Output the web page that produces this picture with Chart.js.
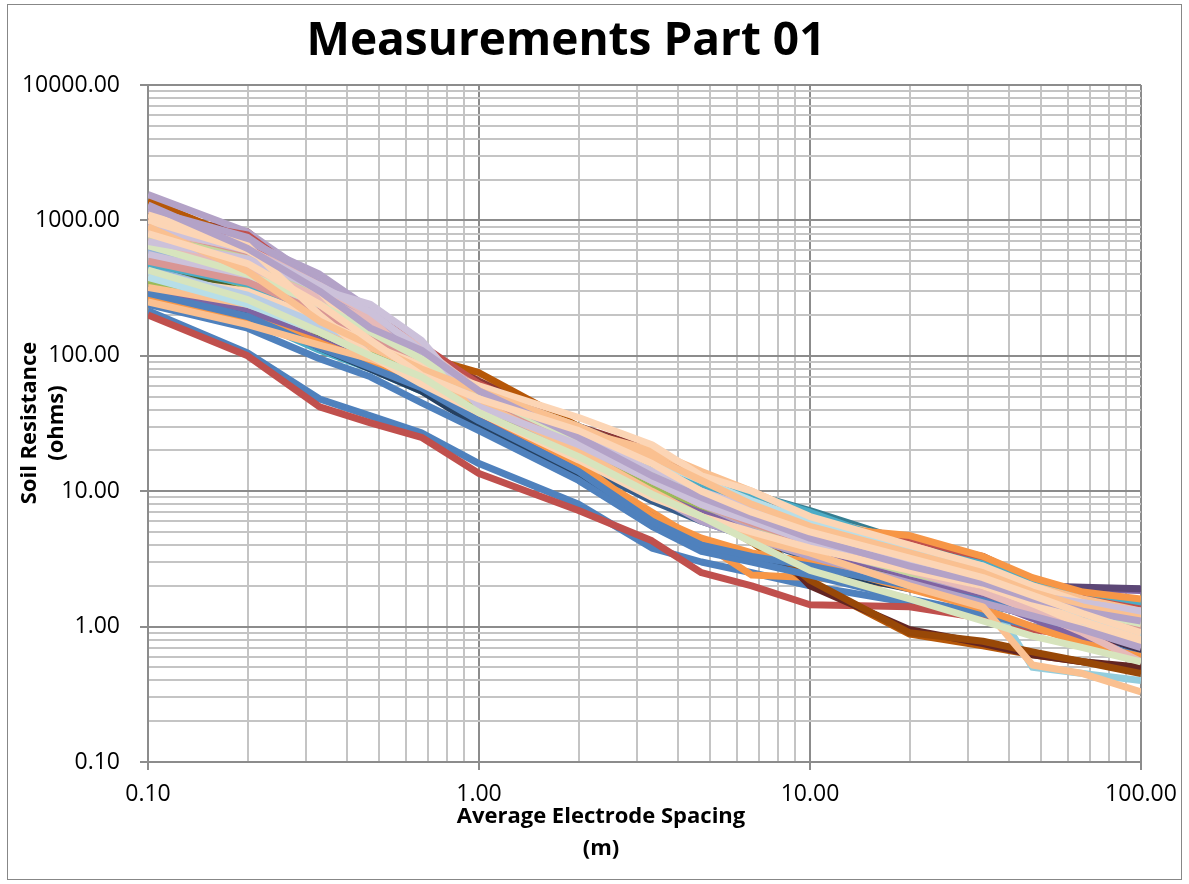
<!DOCTYPE html>
<html>
<head>
<meta charset="utf-8">
<title>Measurements Part 01</title>
<script src="https://cdn.jsdelivr.net/npm/chart.js@4.4.1/dist/chart.umd.min.js"></script>
<style>
    html, body { margin: 0; padding: 0; background: #fff; }
    #wrap { position: relative; width: 1189px; height: 884px; }
</style>
</head>
<body>
<div id="wrap"><canvas id="soil-chart"></canvas></div>
<script>
    "use strict";

    // Average electrode spacing (m)
    var spacing = [0.1, 0.2, 0.33, 0.47, 0.67, 1, 2, 3.33, 4.7, 6.67, 10, 20, 33.3, 47, 66.7, 100];

    // Soil resistance (ohms), one array per measurement point
    var s01 = [215, 105, 48, 36, 27, 16, 8, 3.8, 3.0, 2.5, 2.0, 1.5, 1.2, 1.0, 0.85, 0.7];
    var s02 = [200, 100, 42, 32, 25, 13.5, 7.2, 4.3, 2.5, 2.0, 1.45, 1.4, 1.15, 0.95, 0.85, 0.72];
    var s03 = [420, 260, 140, 95, 70, 38, 17, 9, 7.5, 5.5, 3.8, 2.4, 1.9, 1.5, 1.3, 1.1];
    var s04 = [650, 420, 240, 175, 100, 55, 24, 12, 8, 6.5, 4.5, 3.0, 2.3, 1.9, 1.9, 1.85];
    var s05 = [260, 190, 110, 80, 55, 35, 22, 14, 10, 8.5, 6.8, 4.0, 2.8, 1.8, 1.6, 1.3];
    var s06 = [300, 200, 120, 85, 60, 32, 15, 7, 4.2, 2.4, 2.3, 2.0, 1.6, 1.3, 1.1, 0.9];
    var s07 = [350, 230, 130, 90, 62, 36, 16, 8.5, 6, 4.5, 3.2, 2.1, 1.6, 1.3, 1.1, 0.9];
    var s08 = [1100, 820, 300, 190, 110, 65, 30, 20, 12, 9.5, 6.2, 4.2, 3.3, 2.2, 1.8, 1.3];
    var s09 = [380, 240, 130, 90, 65, 36, 17, 9.5, 6.5, 4.8, 3.4, 2.2, 1.7, 1.4, 1.1, 0.95];
    var s10 = [800, 600, 280, 180, 100, 60, 26, 13, 9, 6, 4.5, 3.0, 2.5, 2.0, 1.95, 1.9];
    var s11 = [550, 380, 200, 140, 90, 55, 30, 18, 11, 9.5, 7.2, 4.2, 3.0, 2.2, 1.5, 1.2];
    var s12 = [1400, 700, 280, 170, 100, 75, 30, 12, 7, 4.2, 2.1, 0.88, 0.72, 0.62, 0.55, 0.48];
    var s13 = [450, 300, 160, 110, 75, 42, 20, 11, 7, 5.2, 3.8, 2.5, 1.8, 1.45, 1.2, 1.0];
    var s14 = [700, 480, 260, 160, 95, 50, 22, 12, 8, 6, 4.4, 2.8, 2.0, 1.6, 1.3, 1.1];
    var s15 = [600, 350, 200, 130, 80, 45, 20, 11, 8, 6, 4.8, 2.2, 1.8, 1.4, 1.2, 1.0];
    var s16 = [1550, 820, 350, 200, 110, 60, 26, 13, 8.5, 6, 4.0, 2.6, 1.9, 1.5, 1.2, 0.9];
    var s17 = [1000, 500, 240, 120, 70, 40, 18, 10, 6.5, 4.8, 3.5, 2.4, 2.0, 0.5, 0.45, 0.4];
    var s18 = [280, 210, 150, 110, 80, 50, 28, 20, 14, 10, 6.5, 4.2, 2.5, 1.6, 1.2, 0.95];
    var s19 = [330, 210, 115, 80, 55, 30, 13, 6, 4.2, 3.2, 2.7, 1.9, 1.5, 1.2, 1.0, 0.8];
    var s20 = [900, 650, 270, 160, 95, 55, 26, 13, 8, 5.5, 2.0, 0.95, 0.75, 0.62, 0.55, 0.5];
    var s21 = [500, 310, 170, 110, 75, 40, 18, 10, 7, 5, 3.6, 2.3, 1.7, 1.35, 1.1, 0.9];
    var s22 = [700, 500, 250, 150, 90, 50, 22, 11, 7.5, 5.5, 4.0, 2.6, 2.0, 1.5, 1.0, 0.65];
    var s23 = [380, 260, 150, 100, 68, 40, 20, 12, 8, 6.2, 4.5, 2.9, 2.2, 1.7, 1.4, 1.15];
    var s24 = [1200, 650, 260, 150, 90, 52, 24, 12, 8, 5, 2.2, 0.9, 0.78, 0.65, 0.55, 0.45];
    var s25 = [240, 160, 95, 70, 45, 28, 12, 5.5, 3.6, 3.0, 2.4, 1.6, 1.25, 1.0, 0.8, 0.6];
    var s26 = [1050, 780, 320, 200, 120, 62, 28, 16, 12, 8.5, 5.5, 4.5, 3.2, 2.0, 1.6, 1.4];
    var s27 = [550, 330, 180, 120, 78, 42, 19, 10, 7.5, 6.2, 3.5, 2.6, 1.9, 1.6, 1.3, 1.05];
    var s28 = [310, 220, 130, 90, 62, 35, 15, 6.5, 4.2, 3.4, 2.9, 2.2, 1.6, 1.15, 0.8, 0.55];
    var s29 = [480, 340, 190, 130, 90, 50, 25, 15, 11, 9.5, 7.0, 3.8, 2.9, 2.2, 1.6, 1.5];
    var s30 = [360, 250, 150, 100, 72, 40, 20, 12, 8.5, 7, 5.5, 4.7, 3.3, 2.3, 1.8, 1.6];
    var s31 = [950, 700, 290, 180, 105, 62, 28, 15, 10, 7.5, 5.2, 3.6, 2.6, 1.9, 1.6, 1.35];
    var s32 = [560, 400, 230, 160, 100, 52, 23, 11, 7, 5.2, 3.7, 2.4, 1.8, 1.5, 1.35, 1.2];
    var s33 = [270, 190, 125, 90, 62, 38, 16, 6.5, 4.5, 3.5, 3.0, 1.9, 1.35, 1.0, 0.75, 0.6];
    var s34 = [620, 450, 230, 150, 95, 52, 27, 15, 10, 7.8, 5.8, 3.4, 2.5, 1.6, 1.3, 1.1];
    var s35 = [350, 250, 150, 105, 72, 42, 21, 11, 7.8, 5.8, 4.2, 2.8, 2.2, 1.7, 1.35, 1.2];
    var s36 = [290, 195, 115, 82, 58, 33, 14, 6, 4.0, 3.3, 2.8, 2.0, 1.55, 1.2, 0.95, 0.75];
    var s37 = [750, 560, 300, 190, 105, 58, 26, 13.5, 9.5, 7, 5.2, 3.4, 2.4, 1.75, 1.45, 1.25];
    var s38 = [1200, 750, 330, 170, 95, 50, 23, 12, 8, 5.5, 3.9, 2.5, 1.8, 1.4, 1.15, 0.95];
    var s39 = [320, 240, 160, 115, 80, 45, 24, 14, 9.5, 7.2, 5.0, 3.3, 2.6, 2.0, 1.6, 1.3];
    var s40 = [520, 360, 210, 140, 90, 48, 23, 13, 8.5, 6.8, 4.8, 3.0, 2.2, 1.6, 1.3, 1.1];
    var s41 = [780, 520, 280, 170, 100, 52, 24, 12, 8, 5.8, 4.0, 2.5, 1.9, 1.5, 1.25, 1.0];
    var s42 = [600, 420, 240, 150, 92, 50, 23, 12.5, 8.5, 6.5, 4.8, 3.1, 2.3, 1.8, 1.45, 1.2];
    var s43 = [850, 620, 330, 200, 115, 55, 25, 13, 9, 6.2, 4.4, 2.9, 2.1, 1.6, 1.3, 1.1];
    var s44 = [560, 380, 220, 140, 88, 50, 24, 14, 10, 7.5, 5.5, 3.6, 2.6, 1.9, 1.5, 1.3];
    var s45 = [380, 300, 190, 130, 85, 48, 22, 12, 8.2, 6, 4.1, 2.7, 1.9, 1.35, 1.0, 0.75];
    var s46 = [420, 280, 170, 120, 85, 50, 24, 13, 9, 6.8, 5.0, 3.2, 2.4, 1.8, 1.4, 1.2];
    var s47 = [650, 450, 270, 180, 100, 45, 22, 13, 9, 6.5, 4.5, 2.6, 1.8, 1.3, 0.9, 0.55];
    var s48 = [900, 700, 400, 220, 100, 45, 19, 9.5, 6, 4.5, 3.3, 2.1, 1.5, 1.2, 0.95, 0.7];
    var s49 = [500, 350, 210, 140, 90, 48, 22, 12, 8, 5.8, 4.2, 2.7, 2.0, 1.55, 1.25, 1.0];
    var s50 = [380, 240, 150, 100, 70, 55, 30, 17, 12, 8.5, 6, 3.6, 2.8, 1.7, 1.1, 0.85];
    var s51 = [250, 170, 120, 95, 70, 45, 20, 10, 6.5, 4.5, 3.5, 2.0, 1.4, 0.52, 0.45, 0.33];
    var s52 = [900, 600, 330, 210, 110, 55, 26, 14, 9.5, 7, 5.0, 3.2, 2.3, 1.7, 1.4, 1.2];
    var s53 = [1000, 600, 300, 120, 85, 60, 35, 22, 13, 10, 6.5, 4.0, 2.8, 2.0, 1.5, 1.1];
    var s54 = [650, 400, 240, 150, 95, 52, 24, 13, 9, 6.5, 4.5, 3.0, 2.1, 1.6, 1.3, 1.05];
    var s55 = [700, 520, 310, 240, 130, 42, 22, 12, 8, 6, 4.2, 3.0, 2.2, 1.7, 1.5, 1.3];
    var s56 = [1100, 650, 200, 100, 62, 38, 17, 9, 6.5, 5, 3.8, 2.6, 2.0, 1.5, 1.1, 0.8];
    var s57 = [900, 420, 180, 120, 80, 55, 30, 18, 12, 8, 5.5, 3.5, 2.5, 1.8, 1.4, 1.15];
    var s58 = [1300, 620, 300, 160, 110, 55, 25, 13, 9, 6.5, 4.5, 2.8, 2.1, 1.6, 1.3, 1.1];
    var s59 = [800, 480, 240, 130, 72, 48, 28, 16, 10, 7, 5, 3.2, 2.3, 1.7, 1.25, 0.9];
    var s60 = [430, 260, 150, 100, 70, 38, 18, 9.5, 6.5, 4.2, 2.6, 1.6, 1.1, 0.85, 0.7, 0.55];

    var allSeries = [s01, s02, s03, s04, s05, s06, s07, s08, s09, s10, s11, s12, s13, s14, s15,
        s16, s17, s18, s19, s20, s21, s22, s23, s24, s25, s26, s27, s28, s29, s30,
        s31, s32, s33, s34, s35, s36, s37, s38, s39, s40, s41, s42, s43, s44, s45,
        s46, s47, s48, s49, s50, s51, s52, s53, s54, s55, s56, s57, s58, s59, s60];

    // Office 2007 style line colours, in the same order as the series
    var lineColors = [
        "#4F81BD", "#C0504D", "#9BBB59", "#8064A2", "#4BACC6", "#F79646",
        "#385D8A", "#8C3836", "#71893F", "#5C4776", "#357D91", "#B65708",
        "#95B3D7", "#D99694", "#C3D69B", "#B3A2C7", "#93CDDD", "#FAC090",
        "#254061", "#632523", "#4F6228", "#3F3151", "#215968", "#984807",
        "#4F81BD", "#C0504D", "#9BBB59", "#8064A2", "#4BACC6", "#F79646",
        "#C0504D", "#8064A2", "#F79646", "#4BACC6", "#9BBB59", "#4F81BD",
        "#D99694", "#B3A2C7", "#FAC090", "#93CDDD", "#C3D69B", "#95B3D7",
        "#E6B9B8", "#CCC1DA", "#FCD5B5",
        "#B9CDE5", "#E6B9B8", "#B3A2C7", "#D99694", "#B7DEE8", "#FAC090",
        "#CCC1DA", "#FCD5B5", "#D7E4BD", "#CCC1DA", "#FCD5B5", "#FAC090",
        "#B3A2C7", "#FCD5B5", "#D7E4BD"
    ];

    var fontFamily = "'Open Sans', 'Liberation Sans', sans-serif";

    // Log axis helpers: ticks at 1..9 x 10^n, labels only on the decades
    function isDecade(v) {
        var l = Math.log10(v);
        return Math.abs(l - Math.round(l)) < 1e-9;
    }

    function logTicks(min, max) {
        var ticks = [];
        for (var e = Math.round(Math.log10(min)); e < Math.round(Math.log10(max)); e++) {
            for (var k = 1; k < 10; k++) {
                ticks.push({ value: Number((k * Math.pow(10, e)).toPrecision(4)) });
            }
        }
        ticks.push({ value: max });
        return ticks;
    }

    function gridColor(ctx) {
        return ctx.tick && isDecade(ctx.tick.value) ? "#8C8C8C" : "#C4C4C4";
    }

    function tickMarkColor(ctx) {
        return ctx.tick && isDecade(ctx.tick.value) ? "#8C8C8C" : "rgba(0,0,0,0)";
    }

    // Titles and outer frame, drawn like the spreadsheet chart
    var excelFrame = {
        id: "excelFrame",
        beforeDraw: function (chart) {
            var c = chart.ctx;
            c.save();
            c.fillStyle = "#ffffff";
            c.fillRect(0, 0, chart.width, chart.height);
            c.restore();
        },
        afterDraw: function (chart) {
            var c = chart.ctx;
            c.save();
            c.strokeStyle = "#878787";
            c.lineWidth = 1;
            c.strokeRect(7.5, 4.5, 1174, 875);

            c.fillStyle = "#000000";
            c.textAlign = "center";
            c.textBaseline = "middle";

            c.font = "bold 46px " + fontFamily;
            c.fillText("Measurements Part 01", 566, 42);

            c.font = "bold 22px " + fontFamily;
            c.fillText("Average Electrode Spacing", 601, 817);
            c.fillText("(m)", 601, 849);

            c.translate(0, 423);
            c.rotate(-Math.PI / 2);
            c.fillText("Soil Resistance", 0, 30);
            c.fillText("(ohms)", 0, 57);
            c.restore();
        }
    };

    var datasets = allSeries.map(function (values, i) {
        return {
            label: "Point " + (i + 1),
            data: spacing.map(function (x, j) { return { x: x, y: values[j] }; }),
            borderColor: lineColors[i],
            backgroundColor: lineColors[i],
            borderWidth: 7,
            borderJoinStyle: "round",
            pointRadius: 0,
            tension: 0,
            fill: false,
            clip: 0,
            order: allSeries.length - i
        };
    });

    var canvas = document.getElementById("soil-chart");
    if (canvas) {
        new Chart(canvas.getContext("2d"), {
            type: "line",
            data: { datasets: datasets },
            options: {
                responsive: true,
                maintainAspectRatio: false,
                animation: false,
                devicePixelRatio: 1,
                layout: { padding: { left: 0, right: 48, top: 85, bottom: 0 } },
                plugins: {
                    legend: { display: false },
                    title: { display: false },
                    tooltip: { enabled: false }
                },
                scales: {
                    x: {
                        type: "logarithmic",
                        min: 0.1,
                        max: 100,
                        afterBuildTicks: function (scale) { scale.ticks = logTicks(0.1, 100); },
                        afterFit: function (scale) { scale.height = 122; },
                        border: { color: "#8C8C8C", width: 2 },
                        grid: { color: gridColor, tickColor: tickMarkColor, tickLength: 8, lineWidth: 2 },
                        ticks: {
                            autoSkip: false,
                            maxRotation: 0,
                            padding: 11,
                            color: "#000000",
                            font: { family: fontFamily, size: 23 },
                            callback: function (v) { return isDecade(v) ? v.toFixed(2) : ""; }
                        }
                    },
                    y: {
                        type: "logarithmic",
                        min: 0.1,
                        max: 10000,
                        afterBuildTicks: function (scale) { scale.ticks = logTicks(0.1, 10000); },
                        afterFit: function (scale) { scale.width = 148; },
                        border: { color: "#8C8C8C", width: 2 },
                        grid: { color: gridColor, tickColor: tickMarkColor, tickLength: 8, lineWidth: 2 },
                        ticks: {
                            autoSkip: false,
                            padding: 20,
                            color: "#000000",
                            font: { family: fontFamily, size: 23 },
                            callback: function (v) { return isDecade(v) ? v.toFixed(2) : ""; }
                        }
                    }
                }
            },
            plugins: [excelFrame]
        });
    } else {
        console.warn("Canvas element with id 'soil-chart' not found, skipping chart initialization.");
    }
</script>
</body>
</html>
